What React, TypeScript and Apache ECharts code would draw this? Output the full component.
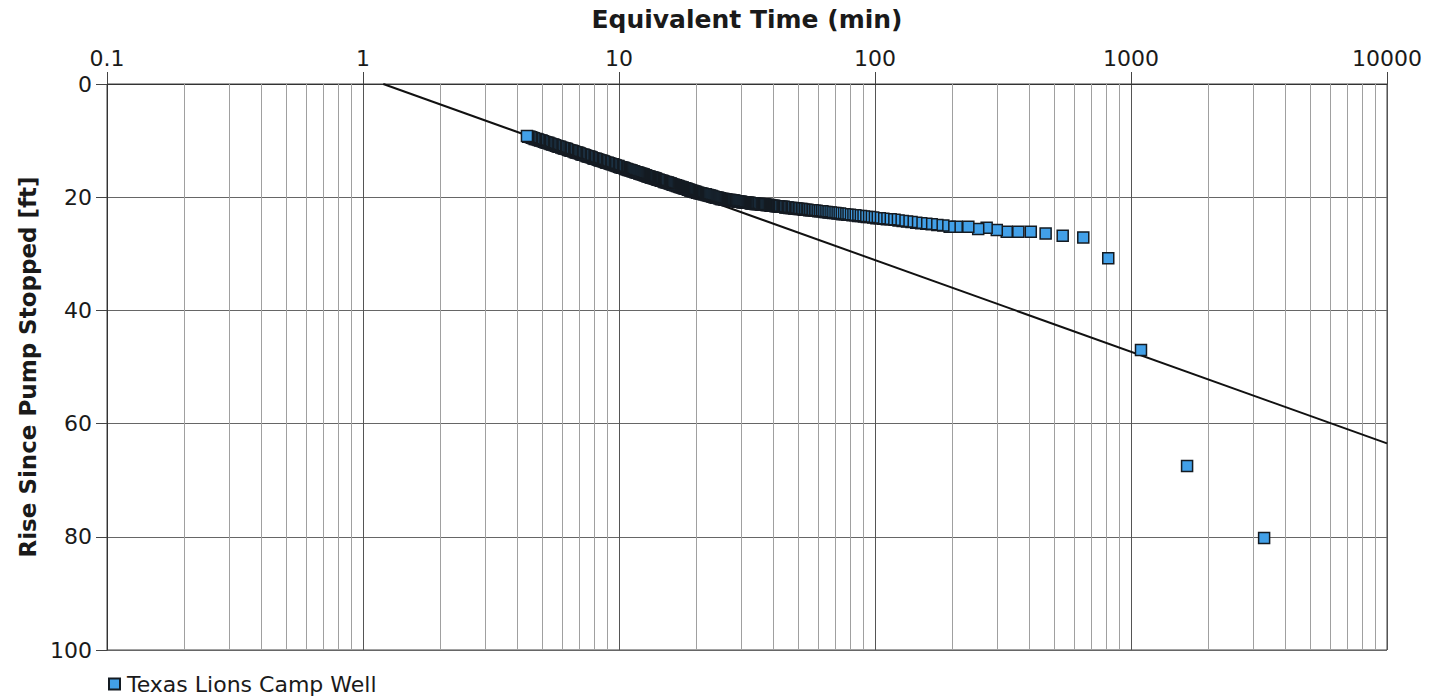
import React, { useEffect, useRef } from 'react';
import * as echarts from 'echarts';

const X_TICKS = [0.1, 1, 10, 100, 1000, 10000];
const Y_TICKS = [0, 20, 40, 60, 80, 100];
const MINOR_X = [
  0.2, 0.3, 0.4, 0.5, 0.6, 0.7, 0.8, 0.9,
  2, 3, 4, 5, 6, 7, 8, 9,
  20, 30, 40, 50, 60, 70, 80, 90,
  200, 300, 400, 500, 600, 700, 800, 900,
  2000, 3000, 4000, 5000, 6000, 7000, 8000, 9000,
];

const SERIES_NAME = 'Texas Lions Camp Well';
const X_TITLE = 'Equivalent Time (min)';
const Y_TITLE = 'Rise Since Pump Stopped [ft]';

// Straight-line fit drawn on the plot
const fitTime = [1.2, 10000];
const fitRise = [0, 63.5];

// Late, individually visible points (descending time)
const lateTime = [3311, 1656, 1094, 815, 651, 541, 464, 406, 363, 327, 299, 273, 253, 231.5, 208.5];
const lateRise = [80.2, 67.5, 47.0, 30.8, 27.1, 26.8, 26.4, 26.1, 26.1, 26.1, 25.8, 25.4, 25.6, 25.2, 25.2];

// Middle stretch (descending time)
const midTime = [195.7, 184.9, 175.2, 166.5, 158.6, 151.5, 144.9, 138.9, 133.4, 128.3,
  123.6, 119.2, 115.1, 111.3, 107.8, 104.4, 101.3, 98.4, 95.6, 92.9,
  90.5, 88.1, 85.9, 83.8, 81.7, 79.8, 78.0, 76.2, 74.6, 73.0,
  71.4, 70.0, 68.6, 67.2, 65.9, 64.7, 63.5, 62.3, 61.2, 60.1,
  59.1, 58.1, 57.1, 56.2, 55.3, 54.4, 53.5, 52.7, 51.9, 51.2,
  50.4, 49.7, 49.0, 48.3, 47.6, 47.0, 46.3, 45.7, 45.1, 44.6,
  44.0, 43.4, 42.9, 42.4, 41.9, 41.4, 40.9, 40.4, 40.0, 39.5,
  39.1, 38.6, 38.2];
const midRise = [25.2, 25.0, 24.9, 24.8, 24.7, 24.6, 24.5, 24.4, 24.3, 24.2,
  24.1, 24.0, 23.9, 23.9, 23.8, 23.7, 23.7, 23.6, 23.5, 23.5,
  23.4, 23.3, 23.3, 23.2, 23.2, 23.1, 23.1, 23.0, 23.0, 22.9,
  22.9, 22.8, 22.8, 22.7, 22.7, 22.6, 22.6, 22.5, 22.5, 22.5,
  22.4, 22.4, 22.3, 22.3, 22.3, 22.2, 22.2, 22.2, 22.1, 22.1,
  22.1, 22.0, 22.0, 22.0, 21.9, 21.9, 21.9, 21.8, 21.8, 21.8,
  21.7, 21.7, 21.7, 21.7, 21.6, 21.6, 21.6, 21.5, 21.5, 21.5,
  21.5, 21.4, 21.4];

// Dense early band (ascending time)
const bandATime = [4.37, 4.42, 4.47, 4.53, 4.58, 4.64, 4.69, 4.75, 4.81, 4.86,
  4.92, 4.98, 5.04, 5.10, 5.16, 5.22, 5.29, 5.35, 5.41, 5.48,
  5.54, 5.61, 5.68, 5.75, 5.81, 5.88, 5.95, 6.03, 6.10, 6.17,
  6.25, 6.32, 6.40, 6.47, 6.55, 6.63, 6.71, 6.79, 6.87, 6.95,
  7.04, 7.12, 7.21, 7.29, 7.38, 7.47, 7.56, 7.65, 7.74, 7.83,
  7.93, 8.02, 8.12, 8.21, 8.31, 8.41, 8.51, 8.62, 8.72, 8.82,
  8.93, 9.04, 9.15, 9.26, 9.37, 9.48, 9.59, 9.71, 9.82, 9.94];
const bandARise = [9.2, 9.3, 9.3, 9.4, 9.5, 9.6, 9.7, 9.7, 9.8, 9.9,
  10.0, 10.0, 10.1, 10.2, 10.3, 10.4, 10.4, 10.5, 10.6, 10.7,
  10.7, 10.8, 10.9, 11.0, 11.1, 11.1, 11.2, 11.3, 11.4, 11.4,
  11.5, 11.6, 11.7, 11.8, 11.8, 11.9, 12.0, 12.1, 12.1, 12.2,
  12.3, 12.4, 12.5, 12.5, 12.6, 12.7, 12.8, 12.8, 12.9, 13.0,
  13.1, 13.2, 13.2, 13.3, 13.4, 13.5, 13.5, 13.6, 13.7, 13.8,
  13.9, 13.9, 14.0, 14.1, 14.2, 14.2, 14.3, 14.4, 14.5, 14.5];

const bandBTime = [10.0, 10.1, 10.2, 10.3, 10.4, 10.5, 10.6, 10.7, 10.8, 10.9,
  11.0, 11.1, 11.2, 11.3, 11.4, 11.5, 11.6, 11.7, 11.8, 11.9,
  12.0, 12.1, 12.2, 12.3, 12.4, 12.5, 12.6, 12.7, 12.8, 12.9,
  13.0, 13.1, 13.2, 13.3, 13.4, 13.5, 13.6, 13.7, 13.8, 13.9, 14.0];
const bandBRise = [14.6, 14.7, 14.7, 14.8, 14.8, 14.9, 15.0, 15.0, 15.1, 15.2,
  15.2, 15.3, 15.3, 15.4, 15.4, 15.5, 15.6, 15.6, 15.7, 15.7,
  15.8, 15.8, 15.9, 15.9, 16.0, 16.0, 16.1, 16.1, 16.2, 16.3,
  16.3, 16.4, 16.4, 16.5, 16.5, 16.5, 16.6, 16.6, 16.7, 16.7, 16.8];

const bandCTime = [14.15, 14.3, 14.45, 14.6, 14.75, 14.9, 15.05, 15.2, 15.35, 15.5,
  15.65, 15.8, 15.95, 16.1, 16.25, 16.4, 16.55, 16.7, 16.85, 17.0,
  17.15, 17.3, 17.45, 17.6, 17.75, 17.9, 18.05, 18.2, 18.35, 18.5,
  18.65, 18.8, 18.95, 19.1, 19.25, 19.4, 19.55, 19.7, 19.85, 20.0];
const bandCRise = [16.9, 16.9, 17.0, 17.1, 17.1, 17.2, 17.3, 17.3, 17.4, 17.4,
  17.5, 17.6, 17.6, 17.7, 17.8, 17.8, 17.9, 17.9, 18.0, 18.0,
  18.1, 18.2, 18.2, 18.3, 18.3, 18.4, 18.4, 18.5, 18.5, 18.6,
  18.7, 18.7, 18.8, 18.8, 18.9, 18.9, 19.0, 19.0, 19.1, 19.1];

const bandDTime = [20.2, 20.4, 20.6, 20.8, 21.0, 21.2, 21.4, 21.6, 21.8, 22.0,
  22.2, 22.4, 22.6, 22.8, 23.0, 23.2, 23.4, 23.6, 23.8, 24.0,
  24.2, 24.4, 24.6, 24.8, 25.0, 25.2, 25.4, 25.6, 25.8, 26.0];
const bandDRise = [19.2, 19.2, 19.3, 19.3, 19.4, 19.4, 19.5, 19.5, 19.5, 19.6,
  19.6, 19.7, 19.7, 19.8, 19.8, 19.9, 19.9, 20.0, 20.0, 20.1,
  20.1, 20.1, 20.2, 20.2, 20.3, 20.3, 20.3, 20.3, 20.4, 20.4];

const bandETime = [26.25, 26.5, 26.75, 27.0, 27.25, 27.5, 27.75, 28.0, 28.25, 28.5,
  28.75, 29.0, 29.25, 29.5, 29.75, 30.0, 30.25, 30.5, 30.75, 31.0,
  31.25, 31.5, 31.75, 32.0, 32.35, 32.7, 33.05, 33.4, 33.75, 34.1,
  34.45, 34.8, 35.15, 35.5, 35.85, 36.2, 36.55, 36.9, 37.25, 37.6, 37.95];
const bandERise = [20.4, 20.5, 20.5, 20.5, 20.5, 20.6, 20.6, 20.6, 20.6, 20.7,
  20.7, 20.7, 20.8, 20.8, 20.8, 20.8, 20.9, 20.9, 20.9, 20.9,
  21.0, 21.0, 21.0, 21.0, 21.0, 21.1, 21.1, 21.1, 21.1, 21.2,
  21.2, 21.2, 21.2, 21.2, 21.3, 21.3, 21.3, 21.3, 21.3, 21.4, 21.4];

const FONT = '"DejaVu Sans", Verdana, sans-serif';
const TEXT_COLOR = '#1a1a1a';
const FILL = '#42a0e8';
const EDGE = '#141b22';

function zip(t: number[], r: number[]): number[][] {
  const n = Math.min(t.length, r.length);
  const out: number[][] = [];
  for (let i = 0; i < n; i++) out.push([t[i], r[i]]);
  return out;
}

export default function App() {
  const ref = useRef<HTMLDivElement>(null);

  useEffect(() => {
    if (!ref.current) return;
    const chart = echarts.init(ref.current, null, { renderer: 'svg' });

    // draw right-to-left so the earliest-time points sit on top
    const points = [
      ...zip(lateTime, lateRise),
      ...zip(midTime, midRise),
      ...zip(bandETime, bandERise),
      ...zip(bandDTime, bandDRise),
      ...zip(bandCTime, bandCRise),
      ...zip(bandBTime, bandBRise),
      ...zip(bandATime, bandARise),
    ].sort((a, b) => b[0] - a[0]);

    const option: any = {
      animation: false,
      backgroundColor: '#ffffff',
      textStyle: { fontFamily: FONT },
      grid: {
        left: 107,
        top: 84,
        width: 1280,
        height: 566,
        show: true,
        borderColor: '#444',
        borderWidth: 1,
        backgroundColor: 'transparent',
        containLabel: false,
        outerBoundsMode: 'none',
      },
      legend: {
        show: true,
        data: [SERIES_NAME],
        left: 103,
        top: 668,
        icon: 'rect',
        itemWidth: 11,
        itemHeight: 11,
        textStyle: { fontSize: 22, color: TEXT_COLOR, fontFamily: FONT, padding: [0, 0, 0, 2] },
      },
      xAxis: {
        type: 'log',
        logBase: 10,
        min: X_TICKS[0],
        max: X_TICKS[X_TICKS.length - 1],
        splitNumber: X_TICKS.length - 1,
        position: 'top',
        name: X_TITLE,
        nameLocation: 'middle',
        nameGap: 52,
        nameTextStyle: { fontSize: 25, fontWeight: 'bold', color: TEXT_COLOR, fontFamily: FONT },
        axisLine: { show: true, lineStyle: { color: '#333', width: 1 } },
        axisTick: { show: true, inside: false, length: 12, lineStyle: { color: '#444', width: 1 } },
        axisLabel: {
          fontSize: 22,
          color: TEXT_COLOR,
          fontFamily: FONT,
          margin: 15,
          formatter: (v: number) => String(parseFloat(Number(v).toPrecision(6))),
        },
        splitLine: { show: true, lineStyle: { color: '#555', width: 1 } },
        minorTick: { show: false },
        minorSplitLine: { show: false },
      },
      yAxis: {
        type: 'value',
        inverse: true,
        min: Y_TICKS[0],
        max: Y_TICKS[Y_TICKS.length - 1],
        interval: Y_TICKS[1] - Y_TICKS[0],
        name: Y_TITLE,
        nameLocation: 'middle',
        nameGap: 64,
        nameRotate: 90,
        nameTextStyle: { fontSize: 23, fontWeight: 'bold', color: TEXT_COLOR, fontFamily: FONT },
        axisLine: { show: true, lineStyle: { color: '#333', width: 1 } },
        axisTick: { show: true, inside: false, length: 11, lineStyle: { color: '#444', width: 1 } },
        axisLabel: { fontSize: 22, color: TEXT_COLOR, fontFamily: FONT, margin: 15 },
        splitLine: { show: true, lineStyle: { color: '#666', width: 1 } },
      },
      series: [
        {
          name: 'fit',
          type: 'line',
          data: zip(fitTime, fitRise),
          showSymbol: false,
          symbol: 'none',
          lineStyle: { color: '#111', width: 2 },
          z: 2,
          silent: true,
          markLine: {
            silent: true,
            symbol: ['none', 'none'],
            label: { show: false },
            lineStyle: { color: '#a0a0a0', width: 1, type: 'solid' },
            emphasis: { disabled: true },
            data: MINOR_X.map((v) => ({ xAxis: v })),
            z: 1,
          },
        },
        {
          name: SERIES_NAME,
          type: 'scatter',
          data: points,
          symbol: 'rect',
          symbolSize: 11,
          itemStyle: { color: FILL, borderColor: EDGE, borderWidth: 1.5, opacity: 1 },
          z: 3,
        },
      ],
    };

    chart.setOption(option);
    return () => chart.dispose();
  }, []);

  return (
    <div
      ref={ref}
      style={{ position: 'fixed', left: 0, top: 0, width: 1430, height: 698, background: '#fff' }}
    />
  );
}
